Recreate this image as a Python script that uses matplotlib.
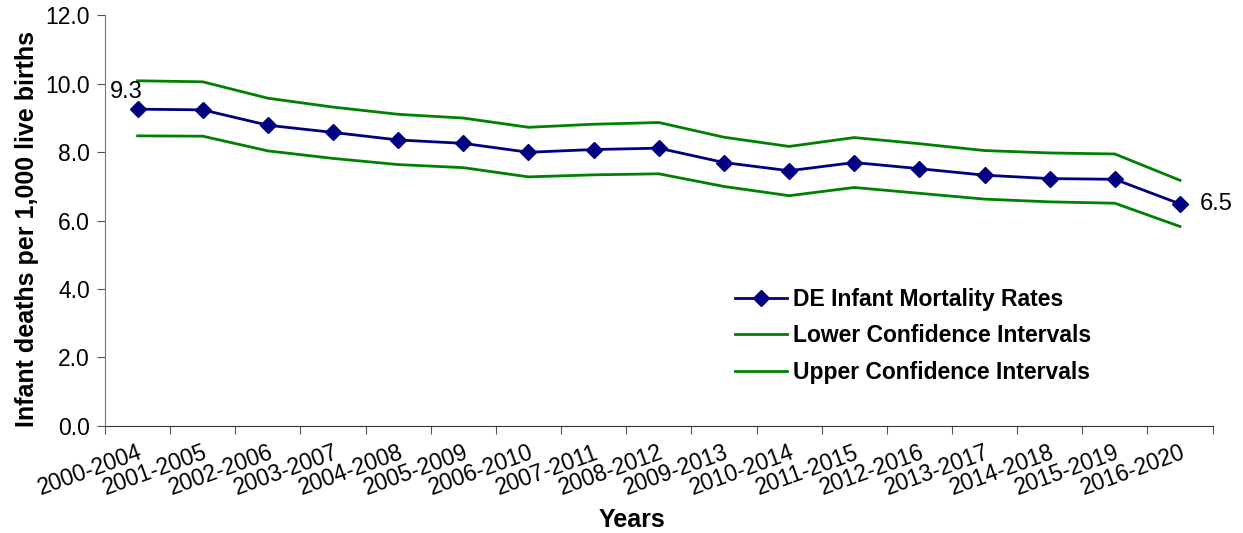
import matplotlib
matplotlib.use("Agg")
import matplotlib.pyplot as plt
import numpy as np

plt.rcParams['font.family'] = ['Liberation Sans', 'DejaVu Sans']

# periods (5-year rolling)
periods = ["2000-2004", "2001-2005", "2002-2006", "2003-2007", "2004-2008",
           "2005-2009", "2006-2010", "2007-2011", "2008-2012", "2009-2013",
           "2010-2014", "2011-2015", "2012-2016", "2013-2017", "2014-2018",
           "2015-2019", "2016-2020"]
rates = [9.26, 9.24, 8.79, 8.58, 8.36, 8.26, 8.00, 8.08, 8.12, 7.70,
         7.46, 7.70, 7.52, 7.33, 7.23, 7.21, 6.49]
lower = [8.48, 8.47, 8.04, 7.82, 7.64, 7.55, 7.28, 7.34, 7.37, 7.00,
         6.73, 6.97, 6.80, 6.63, 6.55, 6.51, 5.83]
upper = [10.09, 10.06, 9.58, 9.32, 9.11, 9.00, 8.73, 8.82, 8.87, 8.44,
         8.17, 8.43, 8.25, 8.05, 7.98, 7.95, 7.18]

x = np.arange(len(periods))

fig = plt.figure(figsize=(12.43, 5.33), dpi=100)
ax = fig.add_axes([0.0845, 0.201, 0.891, 0.77])

ax.plot(x, rates, color="#000080", lw=2, marker="D", markersize=8,
        label="DE Infant Mortality Rates")
ax.plot(x, lower, color="#008000", lw=2, label="Lower Confidence Intervals")
ax.plot(x, upper, color="#008000", lw=2, label="Upper Confidence Intervals")

# data labels at both ends
ax.annotate(f"{rates[0]:.1f}", (x[0], rates[0]), xytext=(-20, 8),
            textcoords="offset points", fontsize=17)
ax.annotate(f"{rates[-1]:.1f}", (x[-1], rates[-1]), xytext=(14, 0),
            textcoords="offset points", fontsize=17, va="center")

ax.set_xlim(-0.5, len(periods) - 0.5)
ax.set_ylim(0, 12)
ax.set_yticks(np.arange(0, 12.1, 2))
ax.set_yticklabels([f"{v:.1f}" for v in np.arange(0, 12.1, 2)], fontsize=16.5)

# ticks between categories, labels at centers
ax.set_xticks(np.arange(-0.5, len(periods), 1))
ax.set_xticklabels([])
ax.set_xticks(x, minor=True)
ax.set_xticklabels(periods, minor=True, rotation=20, ha="right",
                   rotation_mode="anchor", fontsize=16.5)
ax.tick_params(axis="x", which="minor", length=0, pad=11)
ax.tick_params(axis="x", which="major", length=6, color="#555555")
ax.tick_params(axis="y", length=6, color="#555555", pad=5)

for s in ["top", "right"]:
    ax.spines[s].set_visible(False)
ax.spines["left"].set_color("#777777")
ax.spines["bottom"].set_color("#333333")

ax.set_ylabel("Infant deaths per 1,000 live births", fontsize=18,
              fontweight="bold")
ax.set_xlabel("Years", fontsize=18, fontweight="bold")
ax.yaxis.set_label_coords(-0.06, 0.48)
ax.xaxis.set_label_coords(0.476, -0.2)

leg = ax.legend(loc="upper left", bbox_to_anchor=(0.55, 0.387), frameon=False,
                prop={"size": 16.5, "weight": "bold"}, handlelength=2.3,
                handletextpad=0.25, labelspacing=0.6)

fig.savefig("out.png", dpi=100)
